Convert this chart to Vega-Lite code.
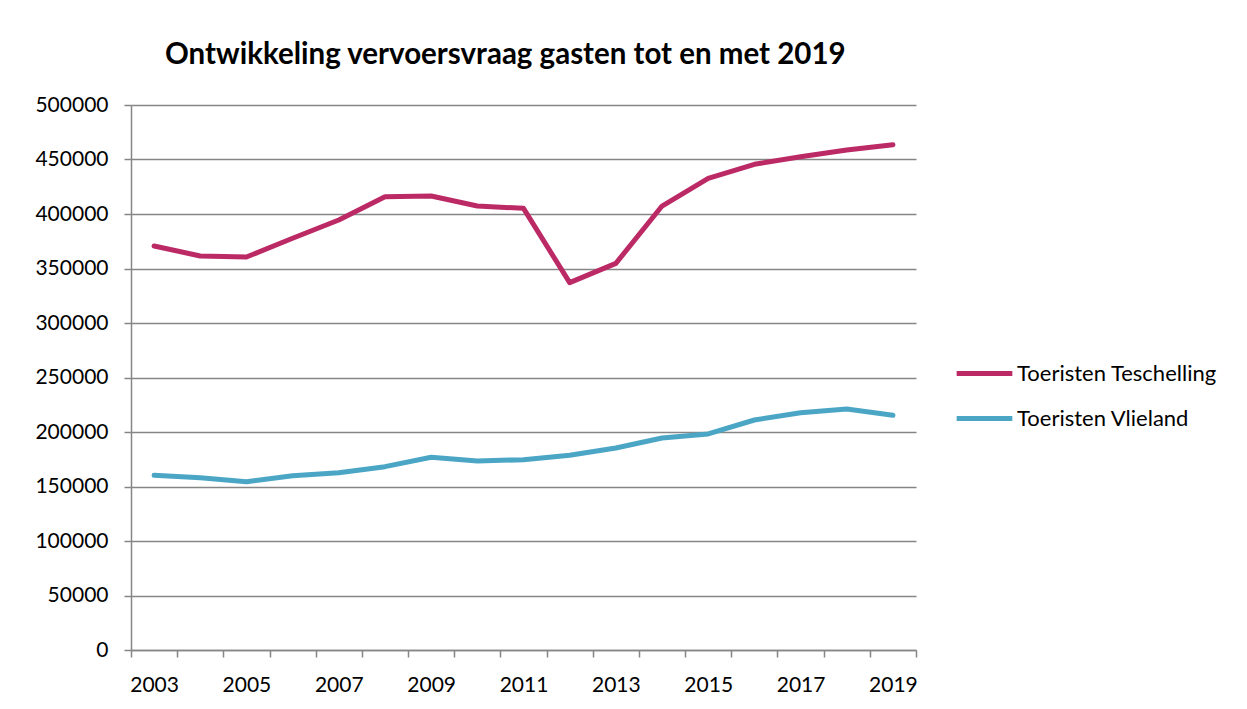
{
  "$schema": "https://vega.github.io/schema/vega-lite/v6.json",
  "width": 785,
  "height": 545,
  "autosize": {"type": "none"},
  "padding": {"left": 131, "top": 105, "right": 331, "bottom": 59},
  "background": "white",
  "title": {
    "text": "Ontwikkeling vervoersvraag gasten tot en met 2019",
    "anchor": "start",
    "frame": "group",
    "dx": 34,
    "offset": 24,
    "font": "Lato",
    "fontSize": 29.5,
    "fontWeight": "bold",
    "color": "#000000"
  },
  "config": {
    "view": {"stroke": null},
    "font": "Lato"
  },
  "data": {
    "values": [
      {"jaar": "2003", "reeks": "Toeristen Teschelling", "waarde": 370600},
      {"jaar": "2004", "reeks": "Toeristen Teschelling", "waarde": 361500},
      {"jaar": "2005", "reeks": "Toeristen Teschelling", "waarde": 360500},
      {"jaar": "2006", "reeks": "Toeristen Teschelling", "waarde": 377700},
      {"jaar": "2007", "reeks": "Toeristen Teschelling", "waarde": 394500},
      {"jaar": "2008", "reeks": "Toeristen Teschelling", "waarde": 415900},
      {"jaar": "2009", "reeks": "Toeristen Teschelling", "waarde": 416500},
      {"jaar": "2010", "reeks": "Toeristen Teschelling", "waarde": 407300},
      {"jaar": "2011", "reeks": "Toeristen Teschelling", "waarde": 405200},
      {"jaar": "2012", "reeks": "Toeristen Teschelling", "waarde": 337000},
      {"jaar": "2013", "reeks": "Toeristen Teschelling", "waarde": 354700},
      {"jaar": "2014", "reeks": "Toeristen Teschelling", "waarde": 407300},
      {"jaar": "2015", "reeks": "Toeristen Teschelling", "waarde": 432700},
      {"jaar": "2016", "reeks": "Toeristen Teschelling", "waarde": 445600},
      {"jaar": "2017", "reeks": "Toeristen Teschelling", "waarde": 452600},
      {"jaar": "2018", "reeks": "Toeristen Teschelling", "waarde": 458700},
      {"jaar": "2019", "reeks": "Toeristen Teschelling", "waarde": 463600},
      {"jaar": "2003", "reeks": "Toeristen Vlieland", "waarde": 160300},
      {"jaar": "2004", "reeks": "Toeristen Vlieland", "waarde": 158100},
      {"jaar": "2005", "reeks": "Toeristen Vlieland", "waarde": 154400},
      {"jaar": "2006", "reeks": "Toeristen Vlieland", "waarde": 159900},
      {"jaar": "2007", "reeks": "Toeristen Vlieland", "waarde": 162700},
      {"jaar": "2008", "reeks": "Toeristen Vlieland", "waarde": 168200},
      {"jaar": "2009", "reeks": "Toeristen Vlieland", "waarde": 176800},
      {"jaar": "2010", "reeks": "Toeristen Vlieland", "waarde": 173400},
      {"jaar": "2011", "reeks": "Toeristen Vlieland", "waarde": 174600},
      {"jaar": "2012", "reeks": "Toeristen Vlieland", "waarde": 178600},
      {"jaar": "2013", "reeks": "Toeristen Vlieland", "waarde": 185300},
      {"jaar": "2014", "reeks": "Toeristen Vlieland", "waarde": 194500},
      {"jaar": "2015", "reeks": "Toeristen Vlieland", "waarde": 198200},
      {"jaar": "2016", "reeks": "Toeristen Vlieland", "waarde": 211000},
      {"jaar": "2017", "reeks": "Toeristen Vlieland", "waarde": 217700},
      {"jaar": "2018", "reeks": "Toeristen Vlieland", "waarde": 221100},
      {"jaar": "2019", "reeks": "Toeristen Vlieland", "waarde": 215300}
    ]
  },
  "mark": {"type": "line", "strokeWidth": 5, "strokeCap": "round", "strokeJoin": "round"},
  "encoding": {
    "x": {
      "field": "jaar",
      "type": "ordinal",
      "scale": {"paddingInner": 0, "paddingOuter": 0},
      "axis": {
        "title": null,
        "labelAngle": 0,
        "tickBand": "extent",
        "labelExpr": "(toNumber(datum.value) - 2003) % 2 == 0 ? datum.label : ''",
        "labelFont": "Lato",
        "labelFontSize": 21,
        "labelColor": "#000000",
        "labelPadding": 17,
        "tickSize": 7,
        "tickColor": "#868686",
        "tickWidth": 1.5,
        "domainColor": "#868686",
        "domainWidth": 1.5,
        "grid": false
      }
    },
    "y": {
      "field": "waarde",
      "type": "quantitative",
      "scale": {"domain": [0, 500000], "nice": false},
      "axis": {
        "title": null,
        "values": [0, 50000, 100000, 150000, 200000, 250000, 300000, 350000, 400000, 450000, 500000],
        "format": "d",
        "labelFont": "Lato",
        "labelFontSize": 21,
        "labelColor": "#000000",
        "labelPadding": 16,
        "tickSize": 7,
        "tickColor": "#868686",
        "tickWidth": 1.5,
        "domainColor": "#868686",
        "domainWidth": 1.5,
        "grid": true,
        "gridColor": "#868686",
        "gridWidth": 1.5
      }
    },
    "color": {
      "field": "reeks",
      "type": "nominal",
      "scale": {"domain": ["Toeristen Teschelling", "Toeristen Vlieland"], "range": ["#BC2A66", "#4BA6C6"]},
      "legend": {
        "title": null,
        "orient": "none",
        "legendX": 823,
        "legendY": 238,
        "symbolType": "stroke",
        "symbolSize": 3100,
        "symbolStrokeWidth": 5,
        "labelFont": "Lato",
        "labelFontSize": 22,
        "labelColor": "#000000",
        "labelOffset": 2,
        "rowPadding": 3,
        "labelLimit": 300
      }
    }
  }
}
